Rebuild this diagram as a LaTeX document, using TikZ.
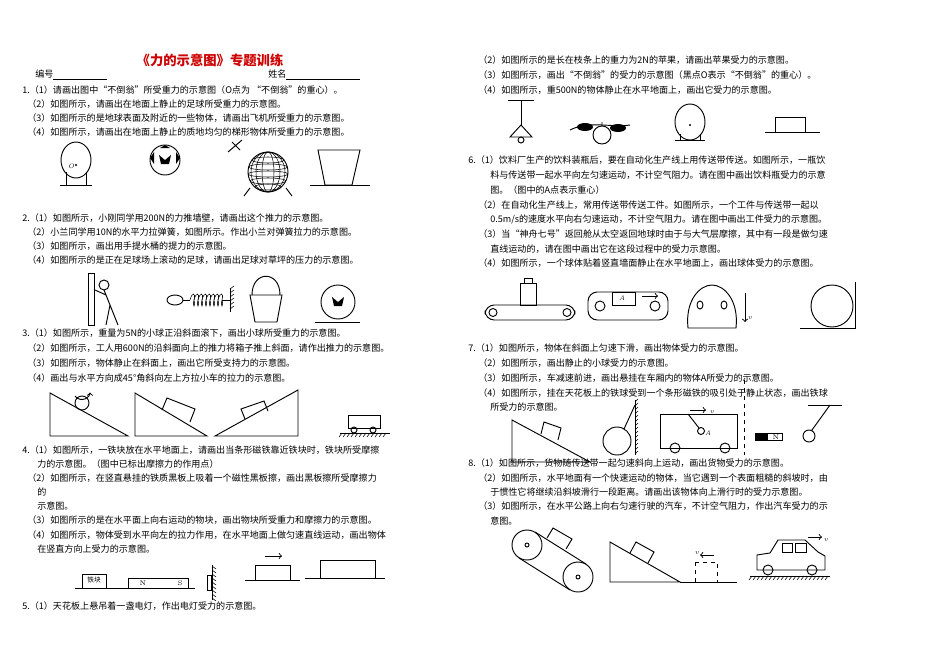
\documentclass[tikz,border=0pt]{standalone}
\usepackage{fontspec}
\newfontfamily\cjk{Noto Sans CJK SC}
\begin{document}
\begin{tikzpicture}[x=0.75pt,y=-0.75pt,
  t/.style={anchor=west,inner sep=0,font=\cjk\fontsize{6.8}{8}\selectfont},
  fig/.style={line width=0.7pt}]
\useasboundingbox (0,0) rectangle (950,671);
% ---------- left column ----------
\node[anchor=center,inner sep=0,text=red!80!black,font=\cjk\bfseries\fontsize{10}{12}\selectfont] (title) at (210,60) {《力的示意图》专题训练};
\node[t] (l0a) at (35,75) {编号\underline{\hspace{40pt}}};
\node[t] (l0b) at (268,75) {姓名\underline{\hspace{55pt}}};
\node[t] (l1) at (22,90) {1.（1）请画出图中“不倒翁”所受重力的示意图（O点为 “不倒翁”的重心）。};
\node[t] (l2) at (27,104) {（2）如图所示，请画出在地面上静止的足球所受重力的示意图。};
\node[t] (l3) at (27,118) {（3）如图所示的是地球表面及附近的一些物体，请画出飞机所受重力的示意图。};
\node[t] (l4) at (27,132) {（4）如图所示，请画出在地面上静止的质地均匀的梯形物体所受重力的示意图。};
\node[t] (l5) at (22,218) {2.（1）如图所示，小刚同学用200N的力推墙壁，请画出这个推力的示意图。};
\node[t] (l6) at (27,232) {（2）小兰同学用10N的水平力拉弹簧，如图所示。作出小兰对弹簧拉力的示意图。};
\node[t] (l7) at (27,246) {（3）如图所示，画出用手提水桶的提力的示意图。};
\node[t] (l8) at (27,260) {（4）如图所示的是正在足球场上滚动的足球，请画出足球对草坪的压力的示意图。};
\node[t] (l9) at (22,333) {3.（1）如图所示，重量为5N的小球正沿斜面滚下，画出小球所受重力的示意图。};
\node[t] (l10) at (27,348) {（2）如图所示，工人用600N的沿斜面向上的推力将箱子推上斜面，请作出推力的示意图。};
\node[t] (l11) at (27,363) {（3）如图所示，物体静止在斜面上，画出它所受支持力的示意图。};
\node[t] (l12) at (27,378) {（4）画出与水平方向成45°角斜向左上方拉小车的拉力的示意图。};
\node[t] (l13) at (22,450) {4.（1）如图所示，一铁块放在水平地面上，请画出当条形磁铁靠近铁块时，铁块所受摩擦};
\node[t] (l14) at (37,464) {力的示意图。（图中已标出摩擦力的作用点）};
\node[t] (l15) at (27,478) {（2）如图所示，在竖直悬挂的铁质黑板上吸着一个磁性黑板擦，画出黑板擦所受摩擦力};
\node[t] (l16) at (37,492) {的};
\node[t] (l17) at (37,506) {示意图。};
\node[t] (l18) at (27,520) {（3）如图所示的是在水平面上向右运动的物块，画出物块所受重力和摩擦力的示意图。};
\node[t] (l19) at (27,535) {（4）如图所示，物体受到水平向左的拉力作用，在水平地面上做匀速直线运动，画出物体};
\node[t] (l20) at (37,549) {在竖直方向上受力的示意图。};
\node[t] (l21) at (22,606) {5.（1）天花板上悬吊着一盏电灯，作出电灯受力的示意图。};
% ---------- right column ----------
\node[t] (r1) at (478,60) {（2）如图所示的是长在枝条上的重力为2N的苹果，请画出苹果受力的示意图。};
\node[t] (r2) at (478,75) {（3）如图所示，画出“不倒翁”的受力的示意图（黑点O表示“不倒翁”的重心）。};
\node[t] (r3) at (478,90) {（4）如图所示，重500N的物体静止在水平地面上，画出它受力的示意图。};
\node[t] (r4) at (468,160) {6.（1）饮料厂生产的饮料装瓶后，要在自动化生产线上用传送带传送。如图所示，一瓶饮};
\node[t] (r5) at (490,175) {料与传送带一起水平向左匀速运动，不计空气阻力。请在图中画出饮料瓶受力的示意};
\node[t] (r6) at (490,190) {图。（图中的A点表示重心）};
\node[t] (r7) at (478,205) {（2）在自动化生产线上，常用传送带传送工件。如图所示，一个工件与传送带一起以};
\node[t] (r8) at (490,219) {0.5m/s的速度水平向右匀速运动，不计空气阻力。请在图中画出工件受力的示意图。};
\node[t] (r9) at (478,234) {（3）当“神舟七号”返回舱从太空返回地球时由于与大气层摩擦，其中有一段是做匀速};
\node[t] (r10) at (490,249) {直线运动的，请在图中画出它在这段过程中的受力示意图。};
\node[t] (r11) at (478,263) {（4）如图所示，一个球体贴着竖直墙面静止在水平地面上，画出球体受力的示意图。};
\node[t] (r12) at (468,348) {7.（1）如图所示，物体在斜面上匀速下滑，画出物体受力的示意图。};
\node[t] (r13) at (478,363) {（2）如图所示，画出静止的小球受力的示意图。};
\node[t] (r14) at (478,378) {（3）如图所示，车减速前进，画出悬挂在车厢内的物体A所受力的示意图。};
\node[t] (r15) at (478,393) {（4）如图所示，挂在天花板上的铁球受到一个条形磁铁的吸引处于静止状态，画出铁球};
\node[t] (r16) at (490,407) {所受力的示意图。};
\node[t] (r17) at (468,463) {8.（1）如图所示，货物随传送带一起匀速斜向上运动，画出货物受力的示意图。};
\node[t] (r18) at (478,478) {（2）如图所示，水平地面有一个快速运动的物体，当它遇到一个表面粗糙的斜坡时，由};
\node[t] (r19) at (490,492) {于惯性它将继续沿斜坡滑行一段距离。请画出该物体向上滑行时的受力示意图。};
\node[t] (r20) at (478,506) {（3）如图所示，在水平公路上向右匀速行驶的汽车，不计空气阻力，作出汽车受力的示};
\node[t] (r21) at (490,521) {意图。};
% ---------- figures row 1 ----------
\draw[fig] (76,160) ellipse (15 and 18);
\draw[fig] (66,172) -- (66,185) (86,172) -- (86,185) (60,185) -- (92,185);
\fill (76,165) circle (1.2); \node[font=\itshape\tiny,inner sep=0] (o1) at (71,166) {O};
\draw[fig] (165,160) circle (15);
\fill (165,160) -- (171,155) -- (169,164) -- (161,164) -- (159,155) -- cycle;
\fill (165,145) -- (170,148) -- (160,148) -- cycle (150,158) -- (154,152) -- (154,164) -- cycle (180,158) -- (176,152) -- (176,164) -- cycle;
\draw[fig] (268,172) circle (20);
\foreach \a in {-12,-5,2,9,15} \draw (268,172+\a) ellipse ({sqrt(400-\a*\a)} and 3);
\foreach \b in {6,12,17} \draw (268,172) ellipse ({\b} and 20);
\draw[fig] (228,152) -- (242,140) (232,142) -- (240,150);
\draw[fig] (250,188) -- (244,196) (286,188) -- (292,196);
\draw[fig] (318,150) -- (360,150) -- (352,185) -- (325,185) -- cycle;
\draw[fig] (310,185) -- (370,185);
% ---------- figures row 2 ----------
\draw[fig] (88,273) rectangle (94,325);
\draw[fig] (104,285) circle (5) (104,290) -- (110,305) -- (106,325) (110,305) -- (118,325) (106,295) -- (95,290);
\draw[fig] (175,300) ellipse (8 and 5);
\draw[fig] (183,300) -- (190,300);
\foreach \i in {0,...,7} \draw (190+\i*4,300) .. controls (192+\i*4,292) and (196+\i*4,292) .. (194+\i*4,300) .. controls (192+\i*4,308) and (196+\i*4,308) .. (194+\i*4,300);
\draw[fig] (222,300) -- (230,300) (230,288) -- (230,312);
\foreach \y in {289,293,...,311} \draw (230,\y) -- (234,\y-3);
\draw[fig] (250,295) -- (282,295) -- (277,322) -- (255,322) -- cycle;
\draw[fig] (252,295) .. controls (252,270) and (280,270) .. (280,295);
\draw[fig] (338,302) circle (17);
\fill (338,302) -- (344,297) -- (342,306) -- (334,306) -- (332,297) -- cycle;
\draw[fig] (315,322) -- (360,322);
% ---------- figures row 3 ----------
\draw[fig] (50,393) -- (50,436) -- (128,436) -- cycle;
\draw[fig] (82,403) circle (7);
\draw[->,fig] (75,396) arc (150:0:8 and 7);
\draw[fig] (135,393) -- (135,436) -- (207,436) -- cycle;
\draw[fig] (162,410) -- (167,398) -- (195,409) -- (190,422);
\draw[fig] (215,436) -- (298,436) -- (298,390) -- cycle;
\draw[fig] (245,419) -- (241,409) -- (264,401) -- (268,411);
\draw[fig] (348,415) rectangle (380,428);
\draw[fig] (354,430) circle (3) (373,430) circle (3);
\draw[fig] (340,433) -- (390,433);
\foreach \x in {342,346,...,388} \draw (\x,433) -- (\x-3,437);
% ---------- figures row 4 ----------
\draw[fig] (82,574) rectangle (106,588);
\node[inner sep=0,font=\cjk\fontsize{5}{5}\selectfont] (tk) at (94,580) {铁块};
\draw[fig] (128,578) rectangle (188,588);
\node[inner sep=0,font=\tiny] (mn) at (143,583) {N};
\node[inner sep=0,font=\tiny] (ms) at (180,583) {S};
\draw[fig] (75,588) -- (195,588);
\draw[fig] (212,565) -- (212,600);
\foreach \y in {566,570,...,598} \draw (212,\y) -- (216,\y+3);
\draw[fig] (207,575) rectangle (211,590);
\draw[fig] (255,565) rectangle (290,580);
\draw[->,fig] (265,556) -- (282,556);
\draw[fig] (245,580) -- (300,580);
\draw[fig] (320,560) rectangle (375,578);
\draw[fig] (305,578) -- (385,578);
% ---------- right row 1 ----------
\draw[fig] (508,100) -- (534,100) (521,100) -- (521,125);
\draw[fig] (521,125) -- (510,137) -- (532,137) -- cycle;
\draw[fig] (521,140) circle (3);
\draw[fig] (570,130) .. controls (590,120) and (610,128) .. (630,125);
\fill (585,127) ellipse (8 and 4) (618,128) ellipse (8 and 4);
\draw[fig] (602,135) circle (9) (602,126) -- (602,122);
\draw[fig] (690,122) ellipse (15 and 18);
\draw[fig] (680,134) -- (680,140) (700,134) -- (700,140) (675,140) -- (705,140);
\fill (690,125) circle (1.2);
\draw[fig] (775,117) rectangle (805,132);
\draw[fig] (765,132) -- (820,132);
% ---------- right row 2 ----------
\draw[fig,rounded corners=7] (485,305) rectangle (575,320);
\draw[fig] (493,312.5) circle (4) (567,312.5) circle (4);
\draw[fig] (520,283) rectangle (536,305) (524,278) rectangle (532,283);
\draw[fig,rounded corners=7] (588,292) rectangle (668,320);
\draw[fig] (600,306) circle (5) (655,306) circle (5);
\draw[fig] (612,292) rectangle (635,305);
\node[inner sep=0,font=\itshape\tiny] (ra) at (622,298) {A};
\draw[->,fig] (642,296) -- (658,296);
\draw[fig] (688,328) .. controls (685,300) and (700,285) .. (712,285) .. controls (724,285) and (739,300) .. (736,328) -- cycle;
\draw[fig] (700,305) ellipse (3 and 4) (724,305) ellipse (3 and 4);
\draw[->,fig] (745,293) -- (745,322);
\node[inner sep=0,font=\itshape\tiny] (rv) at (750,318) {v};
\draw[fig] (832,306) circle (21);
\draw[fig] (855,282) -- (855,328) -- (800,328);
% ---------- right row 3 ----------
\draw[fig] (512,420) -- (512,462) -- (590,462) -- cycle;
\draw[fig] (541,434) -- (544,422) -- (561,428) -- (558,440);
\draw[fig] (635,400) -- (635,455);
\foreach \y in {402,406,...,454} \draw (635,\y) -- (638,\y-3);
\draw[fig] (617,441) circle (14) (635,405) -- (624,429);
\draw[fig] (660,414) rectangle (737,448);
\draw[fig] (675,448) circle (5) (725,448) circle (5);
\draw[->,fig] (690,410) -- (706,410);
\node[inner sep=0,font=\itshape\tiny] (cv) at (712,412) {v};
\draw[fig] (688,414) -- (699,428);
\draw[fig] (701,431) circle (3.5);
\node[inner sep=0,font=\itshape\tiny] (ca) at (708,433) {A};
\draw[dashed,fig] (744,380) -- (744,455);
\fill (755,433) rectangle (768,440);
\draw[fig] (755,433) rectangle (782,440);
\node[inner sep=0,font=\tiny] (mn2) at (776,437) {N};
\draw[fig] (808,405) -- (842,405);
\draw[fig] (830,405) -- (812,430) (809,436) circle (6);
% ---------- right row 4 ----------
\draw[fig] (527,545) circle (15) (578,577) circle (15);
\draw[fig] (535,532) -- (586,564) (519,558) -- (570,590);
\draw[fig] (527,545) circle (2) (578,577) circle (2);
\draw[fig] (547,538) -- (553,528) -- (572,539) -- (566,549);
\draw[fig] (610,542) -- (610,582) -- (680,582) -- cycle;
\draw[fig] (680,582) -- (737,582);
\draw[fig] (630,553) -- (636,542) -- (654,552) -- (648,563);
\draw[dashed,fig] (695,562) rectangle (717,582);
\draw[<-,fig] (700,555) -- (714,555);
\node[inner sep=0,font=\itshape\tiny] (bv) at (697,553) {v};
\draw[fig] (757,570) -- (757,555) -- (770,553) -- (778,540) -- (805,540) -- (818,552) -- (825,556) -- (825,570) -- cycle;
\draw[fig] (768,570) circle (5) (812,570) circle (5);
\draw[fig] (782,543) rectangle (792,552) (795,543) rectangle (806,552);
\draw[->,fig] (808,537) -- (822,537);
\node[inner sep=0,font=\itshape\tiny] (cv2) at (826,540) {v};
\draw[fig] (750,576) -- (830,576);
\foreach \x in {752,756,...,828} \draw (\x,576) -- (\x-3,580);
\end{tikzpicture}
\end{document}
